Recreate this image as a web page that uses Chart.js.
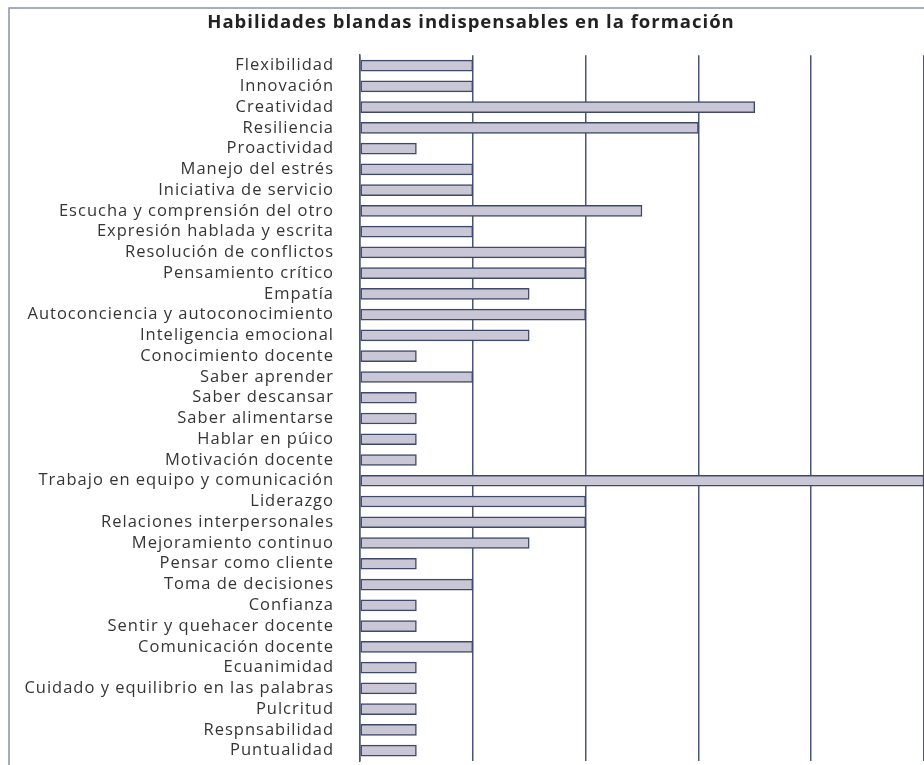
<!DOCTYPE html>
<html>
<head>
<meta charset="utf-8">
<title>Habilidades blandas</title>
<script src="https://cdn.jsdelivr.net/npm/chart.js@4/dist/chart.umd.min.js"></script>
<style>
  html, body { margin: 0; padding: 0; background: #fff; }
  #wrap { width: 924px; height: 765px; position: relative; }
</style>
</head>
<body>
<div id="wrap"><canvas id="chart" width="924" height="765"></canvas></div>
<script>
const titleText = 'Habilidades blandas indispensables en la formación';

const skills = [
  'Flexibilidad', 'Innovación', 'Creatividad', 'Resiliencia', 'Proactividad',
  'Manejo del estrés', 'Iniciativa de servicio', 'Escucha y comprensión del otro',
  'Expresión hablada y escrita', 'Resolución de conflictos', 'Pensamiento crítico',
  'Empatía', 'Autoconciencia y autoconocimiento', 'Inteligencia emocional',
  'Conocimiento docente', 'Saber aprender', 'Saber descansar', 'Saber alimentarse',
  'Hablar en púico', 'Motivación docente', 'Trabajo en equipo y comunicación',
  'Liderazgo', 'Relaciones interpersonales', 'Mejoramiento continuo',
  'Pensar como cliente', 'Toma de decisiones', 'Confianza', 'Sentir y quehacer docente',
  'Comunicación docente', 'Ecuanimidad', 'Cuidado y equilibrio en las palabras',
  'Pulcritud', 'Respnsabilidad', 'Puntualidad'
];

const mentions = [
  2, 2, 7, 6, 1,
  2, 2, 5,
  2, 4, 4,
  3, 4, 3,
  1, 2, 1, 1,
  1, 1, 10,
  4, 4, 3,
  1, 2, 1, 1,
  2, 1, 1,
  1, 1, 1
];

const xMax = 10;
const xStep = 2;

const lineColor = '#4b5677';

// the source font is set a little loose, so add some tracking
const spacingPlugin = {
  id: 'spacing',
  beforeLayout(chart) { chart.ctx.letterSpacing = '1px'; },
  beforeDraw(chart) { chart.ctx.letterSpacing = '1px'; }
};

// title in the source sits a bit right of the page centre
const titleShift = {
  id: 'titleShift',
  afterLayout(chart) {
    if (chart.titleBlock) chart.titleBlock.left += 18;
  }
};

// thin frame around the figure (top and left edges visible)
const framePlugin = {
  id: 'frame',
  beforeDraw(chart) {
    const ctx = chart.ctx;
    ctx.save();
    ctx.strokeStyle = '#8c92a8';
    ctx.lineWidth = 1.5;
    ctx.beginPath();
    ctx.moveTo(9, 765);
    ctx.lineTo(9, 8);
    ctx.lineTo(924, 8);
    ctx.stroke();
    ctx.restore();
  }
};

new Chart(document.getElementById('chart'), {
  type: 'bar',
  data: {
    labels: skills,
    datasets: [{
      data: mentions,
      backgroundColor: '#c9c7d5',
      borderColor: '#3f4a6a',
      borderWidth: 1.5,
      borderSkipped: false,
      barThickness: 11
    }]
  },
  options: {
    indexAxis: 'y',
    responsive: false,
    animation: false,
    layout: { padding: { left: 0, right: 0, top: 0, bottom: 4 } },
    plugins: {
      legend: { display: false },
      tooltip: { enabled: false },
      title: {
        display: true,
        text: titleText,
        color: '#222',
        font: { family: 'Open Sans', size: 18.5, weight: '700' },
        padding: { top: 12, bottom: 21 }
      }
    },
    scales: {
      x: {
        min: 0,
        max: xMax,
        afterFit(scale) {
          scale.height = 0;
          scale.paddingLeft = 0;
          scale.paddingRight = 0;
        },
        ticks: { display: false, stepSize: xStep },
        border: { display: false },
        grid: { color: lineColor, lineWidth: 1.5, drawTicks: false }
      },
      y: {
        afterFit(scale) {
          scale.width = 360;
          scale.paddingTop = 0;
          scale.paddingBottom = 0;
        },
        ticks: {
          color: '#353535',
          padding: 18,
          autoSkip: false,
          font: { family: 'Open Sans', size: 16.5 }
        },
        border: { display: true, color: lineColor, width: 1.5 },
        grid: { display: false }
      }
    }
  },
  plugins: [spacingPlugin, titleShift, framePlugin]
});
</script>
</body>
</html>
